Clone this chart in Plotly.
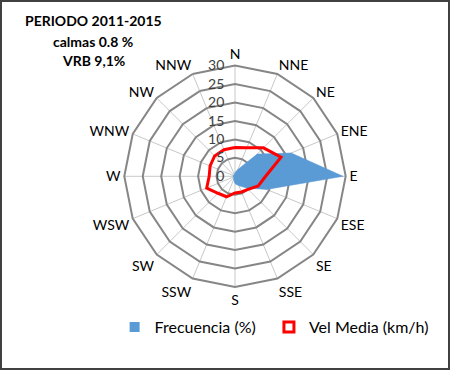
import plotly.graph_objects as go

directions = ["N", "NNE", "NE", "ENE", "E", "ESE", "SE", "SSE",
              "S", "SSW", "SW", "WSW", "W", "WNW", "NW", "NNW"]
frecuencia = [1.0, 2.0, 8.5, 16.5, 29.3, 9.3, 4.5, 2.8,
              2.0, 1.0, 0.5, 0.5, 0.5, 0.5, 0.5, 0.5]
vel_media = [7.8, 8.4, 10.9, 13.5, 8.3, 6.8, 5.0, 4.6,
             4.5, 6.0, 6.5, 8.3, 7.0, 7.3, 7.8, 7.8]
radial_ticks = [0, 5, 10, 15, 20, 25, 30]
title_lines = ["PERIODO 2011-2015", "calmas 0.8 %", "VRB 9,1%"]
series_names = ["Frecuencia (%)", "Vel Media (km/h)"]

FONT = "Lato"
BLUE = "#5b9bd5"
RED = "#ff0000"

theta_closed = directions + [directions[0]]
# tick labels with an invisible pad so the digits sit left of the axis
pad = "<span style='color:rgba(0,0,0,0)'>0</span>"
radial_text = [str(v) + pad for v in radial_ticks]

fig = go.Figure()
fig.add_trace(go.Scatterpolar(
    r=frecuencia + [frecuencia[0]], theta=theta_closed,
    mode="lines", fill="toself", fillcolor=BLUE,
    line=dict(color=BLUE, width=0.5), showlegend=False,
    name=series_names[0]))
fig.add_trace(go.Scatterpolar(
    r=vel_media + [vel_media[0]], theta=theta_closed,
    mode="lines", line=dict(color=RED, width=3),
    showlegend=False, name=series_names[1]))
# legend entries
fig.add_trace(go.Scatterpolar(
    r=[None], theta=[directions[0]], mode="markers",
    marker=dict(symbol="square", size=10, color=BLUE),
    name=series_names[0] + "\u00a0" * 2))
fig.add_trace(go.Scatterpolar(
    r=[None], theta=[directions[0]], mode="markers",
    marker=dict(symbol="square-open", size=10, color=RED,
                line=dict(width=3, color=RED)),
    name=series_names[1]))

W, H = 450, 370
cx, cy, R = 235, 176.3, 110.7
fig.update_layout(
    width=W, height=H, autosize=False,
    margin=dict(l=0, r=0, t=0, b=0),
    paper_bgcolor="white",
    font=dict(family=FONT, size=14, color="#000000"),
    polar=dict(
        gridshape="linear",
        bgcolor="white",
        domain=dict(x=[(cx - R) / W, (cx + R) / W],
                    y=[(H - cy - R) / H, (H - cy + R) / H]),
        angularaxis=dict(
            type="category", categoryarray=directions,
            direction="clockwise", rotation=90,
            showline=True, linecolor="#868686", linewidth=2,
            gridcolor="#c8c8c8", gridwidth=1, ticks="",
            tickfont=dict(family=FONT, size=14, color="#000000")),
        radialaxis=dict(
            range=[0, 30], tickvals=radial_ticks, ticktext=radial_text,
            angle=90, tickangle=90,
            side="counterclockwise", showline=False, ticks="",
            gridcolor="#868686", gridwidth=2,
            tickfont=dict(family=FONT, size=14, color="#404040")),
    ),
    legend=dict(orientation="h", x=0.2547, xanchor="left", y=0.116,
                yanchor="middle", font=dict(family=FONT, size=16),
                itemwidth=30, bgcolor="rgba(0,0,0,0)"),
    shapes=[dict(type="rect", xref="paper", yref="paper",
                 x0=1 / W, x1=1 - 1 / W, y0=1 / H, y1=1 - 1 / H,
                 line=dict(color="#404040", width=2))],
)

ys = [21, 42, 60]
for txt, y in zip(title_lines, ys):
    fig.add_annotation(text="<b>" + txt + "</b>", x=93 / W, y=1 - y / H,
                       xref="paper", yref="paper", showarrow=False,
                       xanchor="center", yanchor="middle",
                       font=dict(family=FONT, size=14, color="#000000"))

fig.write_html(
    "out.html",
    config={"displayModeBar": False},
    post_script="document.body.style.margin='0';"
                "document.body.style.overflow='hidden';")
